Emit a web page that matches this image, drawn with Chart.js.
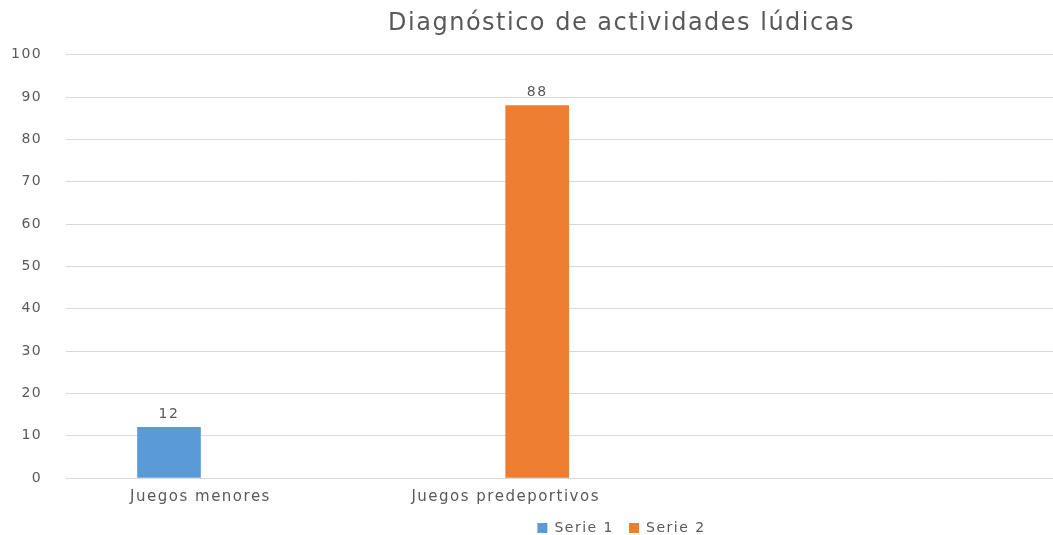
<!DOCTYPE html>
<html lang="es">
<head>
<meta charset="UTF-8">
<title>Diagnóstico de actividades lúdicas</title>
<script src="https://cdn.jsdelivr.net/npm/chart.js"></script>
<style>
    html, body { margin: 0; padding: 0; background: #fff; overflow: hidden; }
    /* un poco mas ancho y alto que la ventana: el titulo y la leyenda quedan centrados como en el original */
    .grafico { position: relative; width: 1232px; height: 545px; }
</style>
</head>
<body>
<div class="grafico">
    <canvas id="grafico"></canvas>
</div>

<script>
    // datos del grafico
    const categorias = ['Juegos menores', 'Juegos predeportivos'];
    const serie1 = [12, null];
    const serie2 = [null, 88];
    const nombresSeries = ['Serie 1', 'Serie 2'];
    const ticksY = [0, 10, 20, 30, 40, 50, 60, 70, 80, 90, 100];

    const gris = '#595959';
    const fuente = 'DejaVu Sans';

    function puntos(serie) {
        return serie.map((v, i) => ({ x: i, y: v }));
    }

    // texto algo mas espaciado, como en la imagen
    const espaciado = {
        id: 'espaciado',
        beforeLayout(chart) { chart.ctx.letterSpacing = '1.5px'; },
        beforeDraw(chart) { chart.ctx.letterSpacing = '1.5px'; }
    };

    // etiquetas de valor encima de las barras
    const etiquetasValor = {
        id: 'etiquetasValor',
        afterDatasetsDraw(chart) {
            const ctx = chart.ctx;
            ctx.save();
            ctx.fillStyle = gris;
            ctx.font = '14px "' + fuente + '"';
            ctx.textAlign = 'center';
            ctx.textBaseline = 'bottom';
            chart.data.datasets.forEach((ds, d) => {
                const meta = chart.getDatasetMeta(d);
                meta.data.forEach((barra, i) => {
                    const v = ds.data[i].y;
                    if (v === null) return;
                    ctx.fillText(v, barra.x, barra.y - 6);
                });
            });
            ctx.restore();
        }
    };

    new Chart(document.getElementById('grafico'), {
        type: 'bar',
        data: {
            datasets: [
                { label: nombresSeries[0], data: puntos(serie1), backgroundColor: '#5B9BD5' },
                { label: nombresSeries[1], data: puntos(serie2), backgroundColor: '#ED7D31' }
            ]
        },
        options: {
            responsive: true,
            maintainAspectRatio: false,
            animation: false,
            barThickness: 63,
            layout: { padding: { left: 11, right: 0, top: 0, bottom: 0 } },
            plugins: {
                title: {
                    display: true,
                    text: 'Diagnóstico de actividades lúdicas',
                    color: gris,
                    font: { family: fuente, size: 24, weight: 'normal' },
                    padding: { top: 9, bottom: 17 }
                },
                legend: {
                    position: 'bottom',
                    labels: {
                        boxWidth: 10,
                        boxHeight: 10,
                        color: gris,
                        font: { family: fuente, size: 14 },
                        padding: 15
                    }
                },
                tooltip: { enabled: false }
            },
            scales: {
                x: {
                    type: 'linear',
                    offset: false,
                    min: -0.44,
                    max: 3.38,
                    afterBuildTicks: (eje) => {
                        eje.ticks = categorias.map((c, i) => ({ value: i }));
                    },
                    // chart.js cuenta el padding dos veces; se quita el de abajo
                    afterFit: (eje) => {
                        eje.paddingLeft = 0;
                        eje.paddingRight = 0;
                        eje.height -= eje.options.ticks.padding;
                    },
                    ticks: {
                        autoSkip: false,
                        maxRotation: 0,
                        padding: 10,
                        color: gris,
                        font: { family: fuente, size: 15 },
                        callback: (v) => categorias[v] ?? ''
                    },
                    grid: { display: false, drawTicks: false },
                    border: { display: false }
                },
                y: {
                    min: ticksY[0],
                    max: ticksY[ticksY.length - 1],
                    afterBuildTicks: (eje) => {
                        eje.ticks = ticksY.map((v) => ({ value: v }));
                    },
                    afterFit: (eje) => {
                        eje.width -= eje.options.ticks.padding;
                    },
                    ticks: {
                        padding: 24,
                        color: gris,
                        font: { family: fuente, size: 14 }
                    },
                    grid: { color: '#D9D9D9', drawTicks: false },
                    border: { display: false }
                }
            }
        },
        plugins: [espaciado, etiquetasValor]
    });
</script>
</body>
</html>
